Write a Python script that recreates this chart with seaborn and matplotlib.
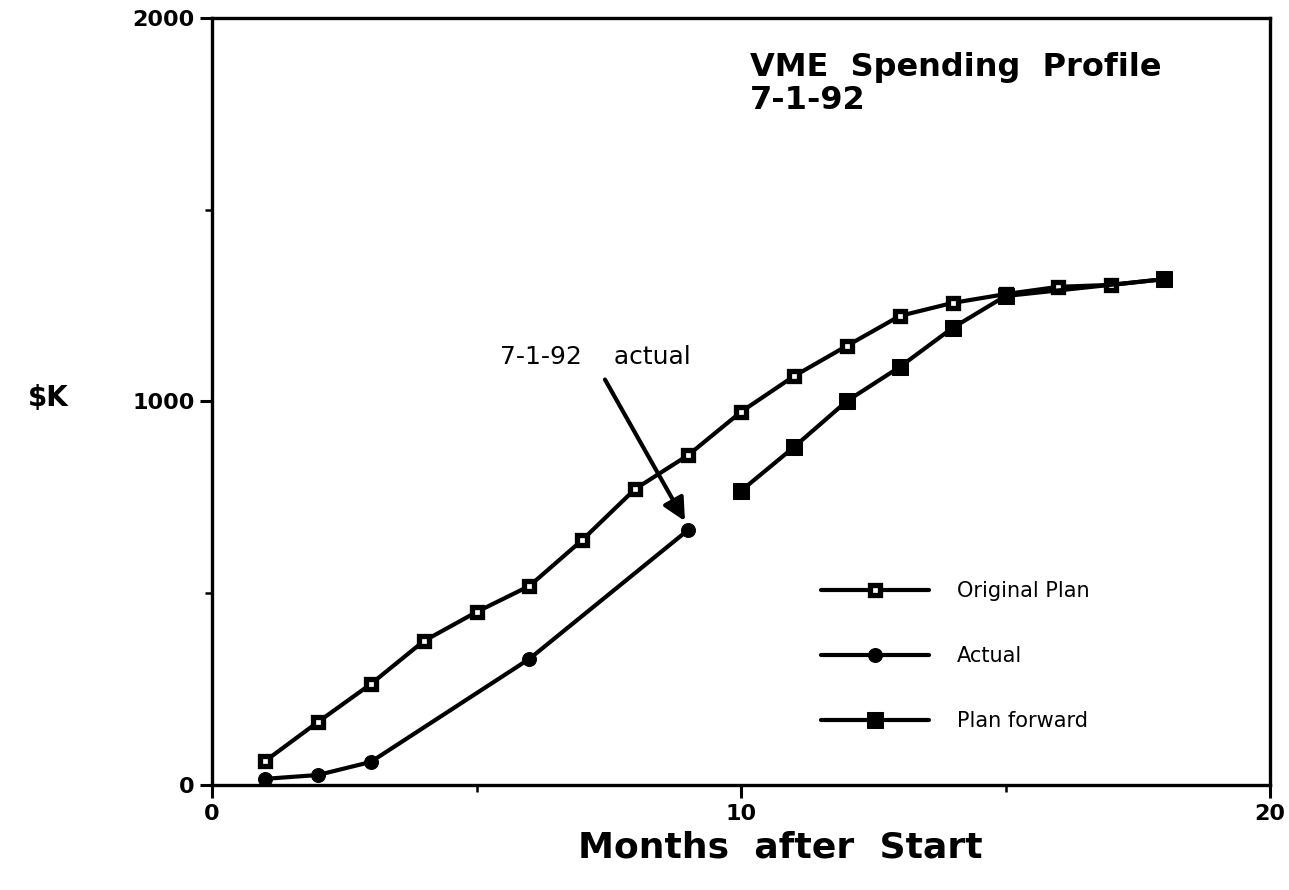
import seaborn as sns
import pandas as pd
import matplotlib.pyplot as plt
from matplotlib.ticker import MultipleLocator

# data ($K by month)
plan_months = [1, 2, 3, 4, 5, 6, 7, 8, 9, 10, 11, 12, 13, 14, 15, 16, 17, 18]
plan_values = [62, 164, 263, 375, 451, 519, 639, 772, 860, 973, 1066, 1145,
               1223, 1257, 1280, 1299, 1304, 1319]

actual_months = [1, 2, 3, 6, 9]
actual_values = [16, 26, 60, 329, 665]

forward_months = [10, 11, 12, 13, 14, 15, 18]
forward_values = [767, 881, 1001, 1090, 1192, 1275, 1319]

sns.set_style("ticks")
plt.rcParams['font.family'] = ['DejaVu Sans']
plt.rcParams['text.color'] = 'black'
plt.rcParams['axes.labelcolor'] = 'black'
plt.rcParams['xtick.color'] = 'black'
plt.rcParams['ytick.color'] = 'black'

df_plan = pd.DataFrame({'month': plan_months, 'k': plan_values})
df_act = pd.DataFrame({'month': actual_months, 'k': actual_values})
df_fwd = pd.DataFrame({'month': forward_months, 'k': forward_values})

fig = plt.figure(figsize=(12.89, 8.90), dpi=100)
ax = fig.add_axes([0.1645, 0.118, 0.8208, 0.8618])

lw = 3.0
sns.lineplot(data=df_plan, x='month', y='k', ax=ax, color='black', lw=lw,
             marker='s', markersize=6.5, markerfacecolor='white',
             markeredgecolor='black', markeredgewidth=3.8, label='Original Plan')
sns.lineplot(data=df_act, x='month', y='k', ax=ax, color='black', lw=lw,
             marker='o', markersize=10, markerfacecolor='black',
             markeredgecolor='black', label='Actual')
sns.lineplot(data=df_fwd, x='month', y='k', ax=ax, color='black', lw=lw,
             marker='s', markersize=11.5, markerfacecolor='black',
             markeredgecolor='black', label='Plan forward')

ax.set_xlim(0, 20)
ax.set_ylim(0, 2000)
ax.xaxis.set_major_locator(MultipleLocator(10))
ax.xaxis.set_minor_locator(MultipleLocator(5))
ax.yaxis.set_major_locator(MultipleLocator(1000))
ax.yaxis.set_minor_locator(MultipleLocator(500))
ax.tick_params(which='major', length=9, width=2.2, labelsize=16, direction='out')
ax.tick_params(axis='x', which='major', pad=5)
ax.tick_params(which='minor', length=5, width=1.8, direction='out')
for lab in ax.get_xticklabels() + ax.get_yticklabels():
    lab.set_fontweight('bold')

for side in ['left', 'right', 'top', 'bottom']:
    ax.spines[side].set_visible(True)
    ax.spines[side].set_linewidth(2.4)
    ax.spines[side].set_color('black')

ax.set_xlabel('Months  after  Start', fontsize=26, fontweight='bold',
              va='center')
ax.xaxis.set_label_coords(0.537, -0.082)
ax.set_ylabel('$K', fontsize=20, fontweight='bold', rotation=0,
              va='center', ha='center')
ax.yaxis.set_label_coords(-0.155, 0.505)

ax.text(0.508, 0.955, 'VME  Spending  Profile\n7-1-92', transform=ax.transAxes,
        fontsize=23, fontweight='bold', va='top', ha='left', linespacing=1.05)

ax.annotate('7-1-92    actual', xy=(8.94, 688), xytext=(5.44, 1116),
            fontsize=18, va='center', ha='left',
            arrowprops=dict(arrowstyle='-|>', color='black', lw=3,
                            mutation_scale=34, shrinkA=6, shrinkB=0,
                            relpos=(0.52, 0.0)))

ax.legend(loc='upper left', bbox_to_anchor=(0.558, 0.29), frameon=False,
          fontsize=15, handlelength=5.2, handletextpad=1.3, labelspacing=2.15)

fig.savefig('out.png', dpi=100, facecolor='white')
